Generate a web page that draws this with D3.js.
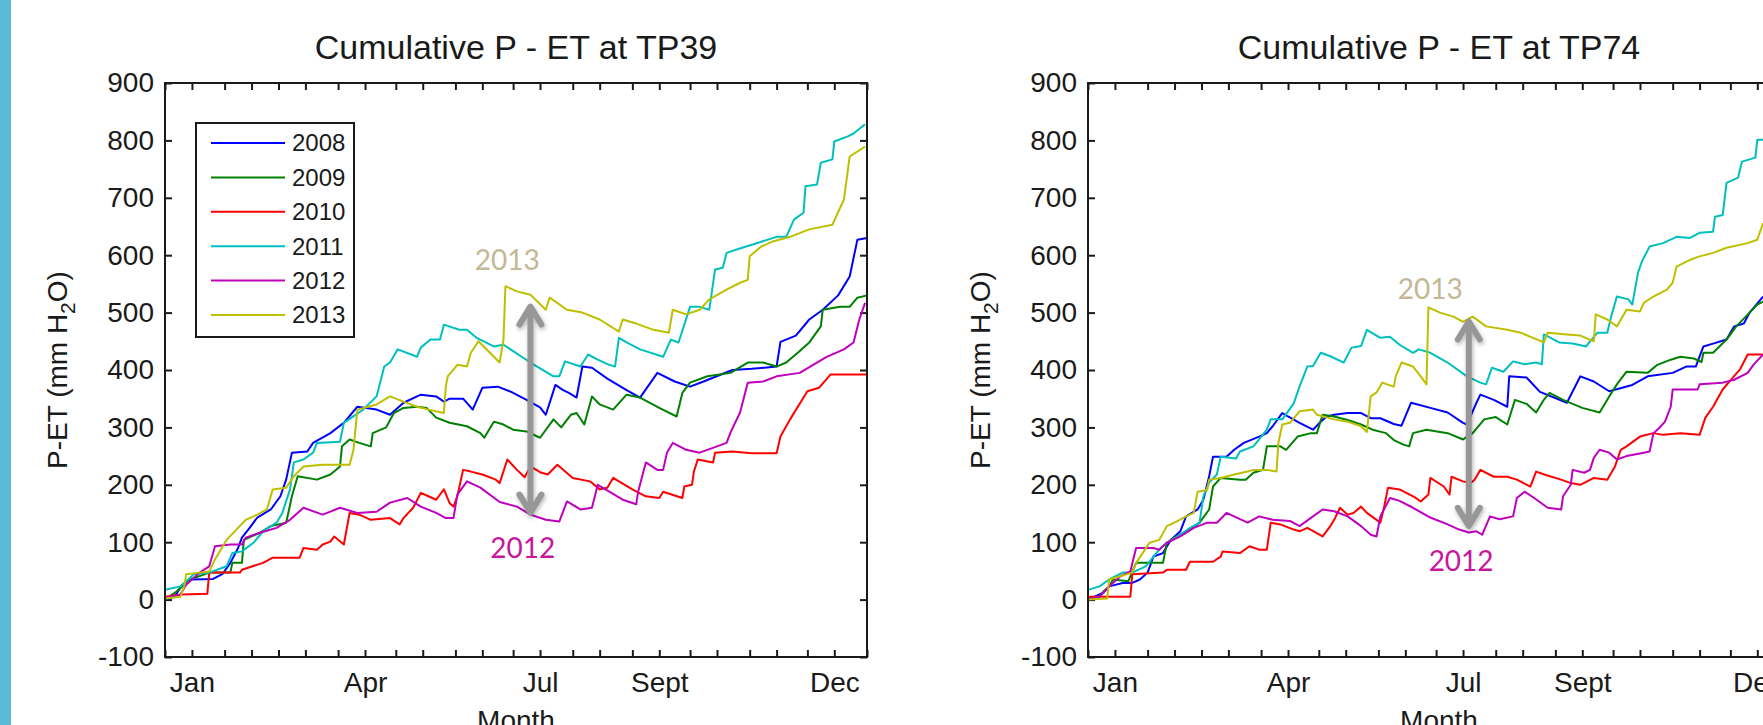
<!DOCTYPE html>
<html>
<head>
<meta charset="utf-8">
<title>Cumulative P - ET at TP39 and TP74</title>
<script src="https://d3js.org/d3.v7.min.js"></script>
<style>
    body { margin: 0; background: #fff; }
    svg { display: block; }
    .axis text { font-family: "Liberation Sans", Arial, sans-serif; font-size: 28px; fill: #1a1a1a; }
    .axis line { stroke: #1a1a1a; stroke-width: 2; }
    .axis path { display: none; }
    .title { font-family: "Liberation Sans", Arial, sans-serif; font-size: 34px; fill: #1a1a1a; }
    .axis-label { font-family: "Liberation Sans", Arial, sans-serif; font-size: 28px; fill: #1a1a1a; }
    .legend text { font-family: "Liberation Sans", Arial, sans-serif; font-size: 24px; fill: #1a1a1a; }
    .note { font-family: Lato, "Open Sans", sans-serif; font-size: 28px; }
</style>
</head>
<body>
<svg width="1763" height="725"></svg>
<script>
// ---- data ----
var years = ["2008", "2009", "2010", "2011", "2012", "2013"];
var colors = ["#0000ff", "#008000", "#ff0000", "#00bfbf", "#bf00bf", "#bfbf00"];
var monthLabels = ["Jan", "Apr", "Jul", "Sept", "Dec"];
var labelDays = [14, 104, 195, 257, 348];
var tickDays = [0, 14, 31, 45, 59, 73, 90, 104, 120, 134, 151, 165, 181, 195, 212, 226, 243, 257, 273, 287, 304, 318, 334, 348, 365];
var yTicks = [-100, 0, 100, 200, 300, 400, 500, 600, 700, 800, 900];

// TP39, [day of year, cumulative P-ET in mm]
var tp39_2008 = [[0,0],[5,5],[9,26],[14,35],[25,36],[30,45],[34,64],[38,90],[40,108],[44,125],[48,143],[55,157],[60,180],[63,209],[66,256],[74,258],[77,273],[86,290],[93,308],[100,336],[110,331],[117,322],[124,343],[133,357],[141,354],[145,345],[148,350],[155,350],[160,331],[165,369],[173,371],[180,362],[188,348],[195,335],[198,322],[203,374],[207,365],[210,360],[214,352],[217,406],[222,404],[230,385],[240,365],[247,352],[256,395],[265,380],[273,371],[280,380],[295,400],[305,402],[318,406],[320,449],[328,460],[335,488],[342,505],[350,530],[356,563],[360,627],[365,630]];
var tp39_2009 = [[0,0],[6,14],[13,35],[23,47],[34,47],[35,64],[40,64],[41,104],[49,116],[55,128],[63,134],[66,180],[69,215],[79,209],[86,218],[91,232],[92,267],[96,279],[101,273],[107,267],[108,290],[115,300],[119,325],[124,334],[131,336],[136,334],[141,317],[148,308],[157,302],[164,290],[166,282],[171,310],[176,305],[181,296],[188,293],[195,282],[202,314],[206,300],[211,322],[214,325],[218,305],[222,354],[226,340],[233,331],[240,357],[247,352],[257,334],[266,319],[269,360],[273,378],[282,389],[294,395],[303,413],[311,413],[318,406],[323,413],[329,430],[335,448],[341,476],[342,505],[351,510],[356,510],[360,526],[365,530]];
var tp39_2010 = [[0,5],[9,9],[22,10],[23,47],[39,47],[40,52],[51,64],[56,73],[70,73],[72,90],[79,87],[82,96],[86,101],[88,110],[93,96],[96,151],[101,148],[107,139],[117,142],[122,131],[124,142],[129,160],[133,186],[137,180],[141,174],[145,192],[148,168],[150,162],[152,180],[155,226],[159,223],[165,218],[172,209],[174,203],[178,244],[183,226],[187,213],[190,232],[195,222],[199,218],[204,235],[212,212],[221,206],[226,192],[230,195],[233,212],[243,192],[250,180],[257,177],[259,188],[269,177],[270,197],[274,200],[275,223],[277,244],[285,239],[286,256],[295,258],[305,255],[318,255],[320,284],[325,314],[334,363],[340,369],[346,392],[365,392]];
var tp39_2011 = [[0,17],[8,23],[15,44],[23,47],[32,58],[35,81],[40,84],[46,99],[51,119],[58,134],[61,151],[65,192],[67,239],[72,244],[77,256],[79,273],[91,275],[93,308],[103,331],[110,354],[114,406],[117,413],[121,436],[131,423],[133,439],[138,453],[143,453],[145,479],[153,470],[157,470],[162,456],[171,441],[176,444],[190,413],[202,389],[205,389],[208,415],[216,406],[220,427],[225,418],[231,409],[234,406],[236,456],[240,448],[247,436],[259,423],[263,453],[267,448],[273,510],[278,510],[283,505],[286,575],[290,578],[292,604],[300,613],[306,619],[318,632],[323,632],[327,662],[332,674],[333,720],[339,723],[341,761],[347,767],[348,798],[355,807],[358,812],[364,828]];
var tp39_2012 = [[0,3],[8,9],[11,26],[18,47],[23,58],[26,93],[34,96],[40,96],[42,108],[49,116],[58,125],[65,139],[72,160],[82,148],[91,160],[100,151],[110,153],[117,169],[126,177],[133,162],[141,151],[146,142],[150,142],[152,183],[157,206],[164,195],[174,170],[183,162],[190,148],[198,139],[205,136],[209,171],[216,157],[222,160],[225,200],[231,188],[238,174],[245,166],[246,188],[250,239],[256,226],[259,226],[261,256],[264,273],[271,261],[278,256],[287,267],[292,273],[294,291],[299,326],[303,378],[311,380],[318,389],[330,395],[337,409],[344,423],[353,436],[358,448],[361,488],[364,517]];
var tp39_2013 = [[0,2],[8,5],[10,23],[11,44],[18,47],[23,49],[26,70],[32,104],[38,125],[42,139],[48,148],[53,157],[56,192],[63,195],[67,215],[72,232],[82,235],[96,235],[98,261],[100,331],[110,340],[117,354],[124,345],[131,336],[137,331],[145,325],[146,371],[147,389],[152,409],[157,406],[159,430],[163,450],[174,413],[176,453],[177,546],[183,537],[190,531],[198,505],[200,526],[209,505],[217,500],[226,488],[236,467],[238,488],[244,482],[254,470],[262,465],[264,505],[271,497],[278,505],[283,523],[292,540],[299,552],[303,557],[304,598],[310,615],[316,624],[325,632],[335,645],[347,653],[353,697],[356,772],[364,789]];

// TP74
var tp74_2008 = [[0,0],[8,12],[11,23],[18,29],[23,29],[27,35],[31,47],[34,75],[39,81],[43,104],[48,119],[51,145],[57,157],[60,174],[63,215],[65,249],[72,249],[76,261],[81,273],[89,284],[93,290],[96,302],[101,325],[104,319],[110,308],[117,296],[121,310],[124,319],[128,322],[135,325],[142,325],[147,316],[152,316],[159,306],[163,303],[168,343],[178,334],[187,326],[195,308],[197,305],[202,343],[204,357],[211,348],[218,336],[219,389],[228,387],[235,362],[249,343],[256,389],[263,380],[271,363],[283,374],[291,389],[304,395],[311,406],[316,406],[320,441],[325,446],[332,453],[336,476],[341,481],[344,500],[351,528]];
var tp74_2009 = [[0,0],[6,5],[8,14],[11,23],[13,35],[21,32],[25,64],[39,64],[41,99],[46,110],[53,122],[58,134],[63,157],[65,197],[69,212],[79,209],[82,209],[86,221],[91,226],[93,267],[100,267],[103,261],[109,284],[116,290],[119,290],[122,322],[128,319],[135,313],[142,305],[148,296],[155,290],[159,278],[164,270],[167,267],[169,290],[176,296],[187,290],[195,279],[200,290],[206,314],[212,318],[218,305],[222,348],[228,341],[233,326],[237,348],[240,360],[247,348],[257,334],[266,326],[271,354],[275,375],[280,397],[291,395],[296,409],[303,418],[308,423],[315,420],[319,414],[320,430],[325,430],[332,453],[337,476],[342,493],[348,514],[351,519]];
var tp74_2010 = [[0,2],[1,5],[22,5],[23,44],[39,47],[41,52],[51,52],[53,66],[65,66],[69,75],[70,84],[79,81],[84,93],[89,87],[93,87],[95,134],[100,131],[107,122],[110,119],[114,125],[122,110],[126,128],[128,139],[131,160],[135,148],[138,151],[142,162],[145,151],[152,134],[154,162],[156,195],[162,192],[170,178],[173,171],[177,183],[178,212],[185,197],[188,183],[189,214],[195,206],[199,203],[201,209],[204,226],[211,214],[218,214],[223,209],[230,197],[233,223],[238,217],[246,209],[251,203],[256,200],[263,212],[270,209],[274,232],[277,261],[280,267],[287,284],[294,290],[299,287],[308,290],[318,287],[321,317],[325,336],[330,366],[334,382],[339,401],[343,427],[351,427]];
var tp74_2011 = [[0,17],[6,23],[11,35],[18,47],[23,47],[30,58],[37,87],[41,99],[48,113],[53,125],[58,134],[60,180],[63,204],[67,218],[69,249],[77,246],[79,258],[86,267],[89,279],[93,296],[95,314],[101,314],[107,342],[110,371],[114,406],[117,407],[121,430],[126,424],[133,413],[137,439],[142,442],[145,470],[152,456],[157,458],[162,444],[169,430],[172,436],[178,430],[187,413],[197,389],[204,378],[207,375],[210,404],[216,397],[221,415],[227,410],[233,413],[236,410],[237,462],[245,448],[252,446],[259,441],[261,450],[265,465],[270,465],[272,493],[275,528],[281,523],[283,514],[286,570],[288,589],[292,615],[299,621],[306,632],[313,630],[318,639],[325,641],[326,667],[330,670],[332,726],[338,735],[340,763],[347,770],[348,801],[351,801]];
var tp74_2012 = [[0,0],[6,5],[11,23],[17,41],[22,49],[25,90],[34,90],[37,87],[41,99],[48,110],[55,125],[62,134],[67,134],[72,151],[83,134],[89,145],[96,139],[105,137],[110,128],[117,145],[122,157],[128,154],[135,145],[142,128],[147,113],[150,110],[152,145],[157,177],[162,172],[169,160],[178,143],[187,131],[193,122],[198,117],[202,119],[205,113],[209,145],[214,140],[221,145],[223,177],[227,188],[232,177],[239,160],[246,157],[247,180],[251,200],[252,226],[258,221],[261,226],[263,247],[266,261],[271,256],[275,244],[280,250],[289,256],[292,258],[294,290],[297,299],[300,310],[303,336],[304,366],[317,366],[318,375],[330,378],[336,383],[343,395],[346,409],[351,427]];
var tp74_2013 = [[0,0],[10,2],[11,35],[20,44],[23,47],[25,64],[29,84],[32,99],[37,104],[41,128],[46,136],[51,145],[55,151],[57,188],[62,191],[63,209],[69,212],[76,218],[83,223],[86,226],[93,226],[98,223],[99,273],[101,305],[105,308],[110,328],[117,331],[119,322],[128,314],[135,310],[142,302],[145,292],[147,354],[150,361],[153,378],[159,371],[160,389],[163,413],[169,406],[173,389],[176,375],[177,509],[183,500],[190,493],[195,484],[200,493],[207,476],[218,470],[225,465],[237,448],[239,465],[249,462],[256,460],[263,450],[264,497],[270,488],[275,476],[280,505],[287,502],[289,517],[294,528],[301,540],[304,552],[306,580],[313,592],[318,598],[325,604],[332,613],[343,621],[348,627],[351,656]];

// annotation positions [day, value]
var tp39_arrow = [190, 514, 148];
var tp74_arrow = [198, 488, 125];
var tp39_notes = [[178, 575, "2013"], [186, 73, "2012"]];
var tp74_notes = [[178, 523, "2013"], [194, 49, "2012"]];
var noteColors = {"2013": "#c2b894", "2012": "#c8169c"};

// ---- drawing ----
var svg = d3.select("svg");
var width = 702, height = 574;

var defs = svg.append("defs");
defs.append("filter").attr("id", "shadow")
    .attr("x", "-50%").attr("y", "-10%").attr("width", "200%").attr("height", "120%")
    .append("feDropShadow")
    .attr("dx", 1).attr("dy", 2).attr("stdDeviation", 2)
    .attr("flood-color", "#000").attr("flood-opacity", 0.3);

// left edge band
svg.append("rect").attr("x", 0).attr("y", 0).attr("width", 11).attr("height", 725).attr("fill", "#5bbad6");

var x = d3.scaleLinear().domain([0, 365]).range([0, width]);
var y = d3.scaleLinear().domain([-100, 900]).range([height, 0]);

var line = d3.line().x(d => x(d[0])).y(d => y(d[1]));

function drawPanel(left, title, series, arrow, notes, showLegend) {
    var g = svg.append("g").attr("transform", "translate(" + left + ",83)");

    g.append("g").attr("class", "axis")
        .attr("transform", "translate(0," + height + ")")
        .call(d3.axisBottom(x).tickValues(tickDays).tickSize(-7).tickFormat(""));
    g.append("g").attr("class", "axis")
        .call(d3.axisTop(x).tickValues(tickDays).tickSize(-7).tickFormat(""));
    g.append("g").attr("class", "axis")
        .call(d3.axisLeft(y).tickValues(yTicks).tickSize(-7).tickPadding(11)
            .tickFormat(d => String(d)));
    g.append("g").attr("class", "axis")
        .attr("transform", "translate(" + width + ",0)")
        .call(d3.axisRight(y).tickValues(yTicks).tickSize(-7).tickFormat(""));
    g.append("g").attr("class", "axis")
        .attr("transform", "translate(0," + height + ")")
        .call(d3.axisBottom(x).tickValues(labelDays).tickSize(0).tickPadding(15)
            .tickFormat((d, i) => monthLabels[i]));

    g.selectAll("path.series")
        .data(series)
        .enter().append("path")
        .attr("class", "series")
        .attr("d", line)
        .attr("fill", "none")
        .attr("stroke", (d, i) => colors[i])
        .attr("stroke-width", 2)
        .attr("stroke-linejoin", "round");

    g.append("rect")
        .attr("width", width).attr("height", height)
        .attr("fill", "none").attr("stroke", "#1a1a1a").attr("stroke-width", 2);

    g.append("text").attr("class", "title")
        .attr("x", width / 2).attr("y", -24)
        .attr("text-anchor", "middle")
        .text(title);

    g.append("text").attr("class", "axis-label")
        .attr("x", width / 2).attr("y", height + 73)
        .attr("text-anchor", "middle")
        .text("Month");

    var yl = g.append("text").attr("class", "axis-label")
        .attr("transform", "translate(-98," + (height / 2) + ") rotate(-90)")
        .attr("text-anchor", "middle");
    yl.append("tspan").text("P-ET (mm H");
    yl.append("tspan").attr("dy", 8).attr("font-size", 21).text("2");
    yl.append("tspan").attr("dy", -8).text("O)");

    // double-headed arrow
    var ax = x(arrow[0]), y1 = y(arrow[1]), y2 = y(arrow[2]);
    var ag = g.append("g").attr("stroke", "#979797").attr("stroke-width", 6)
        .attr("stroke-linecap", "round").attr("stroke-linejoin", "round")
        .attr("fill", "none").attr("filter", "url(#shadow)");
    ag.append("line").attr("x1", ax).attr("x2", ax).attr("y1", y1 + 3).attr("y2", y2 - 3);
    ag.append("polyline").attr("points", [[ax - 11, y1 + 20], [ax, y1 + 2], [ax + 11, y1 + 20]].join(" "));
    ag.append("polyline").attr("points", [[ax - 11, y2 - 20], [ax, y2 - 2], [ax + 11, y2 - 20]].join(" "));

    g.selectAll("text.note")
        .data(notes)
        .enter().append("text")
        .attr("class", "note")
        .attr("x", d => x(d[0])).attr("y", d => y(d[1]))
        .attr("text-anchor", "middle")
        .attr("fill", d => noteColors[d[2]])
        .text(d => d[2]);

    if (showLegend) {
        var lg = g.append("g").attr("class", "legend").attr("transform", "translate(31,40)");
        lg.append("rect").attr("width", 158).attr("height", 214)
            .attr("fill", "#fff").attr("stroke", "#1a1a1a").attr("stroke-width", 2);
        var item = lg.selectAll("g.item")
            .data(years)
            .enter().append("g")
            .attr("class", "item")
            .attr("transform", (d, i) => "translate(0," + (20 + i * 34.4) + ")");
        item.append("line")
            .attr("x1", 15).attr("x2", 89)
            .attr("stroke", (d, i) => colors[i]).attr("stroke-width", 2);
        item.append("text")
            .attr("x", 96).attr("dy", "0.35em")
            .text(d => d);
    }
}

drawPanel(165, "Cumulative P - ET at TP39",
    [tp39_2008, tp39_2009, tp39_2010, tp39_2011, tp39_2012, tp39_2013],
    tp39_arrow, tp39_notes, true);
drawPanel(1088, "Cumulative P - ET at TP74",
    [tp74_2008, tp74_2009, tp74_2010, tp74_2011, tp74_2012, tp74_2013],
    tp74_arrow, tp74_notes, false);
</script>
</body>
</html>
